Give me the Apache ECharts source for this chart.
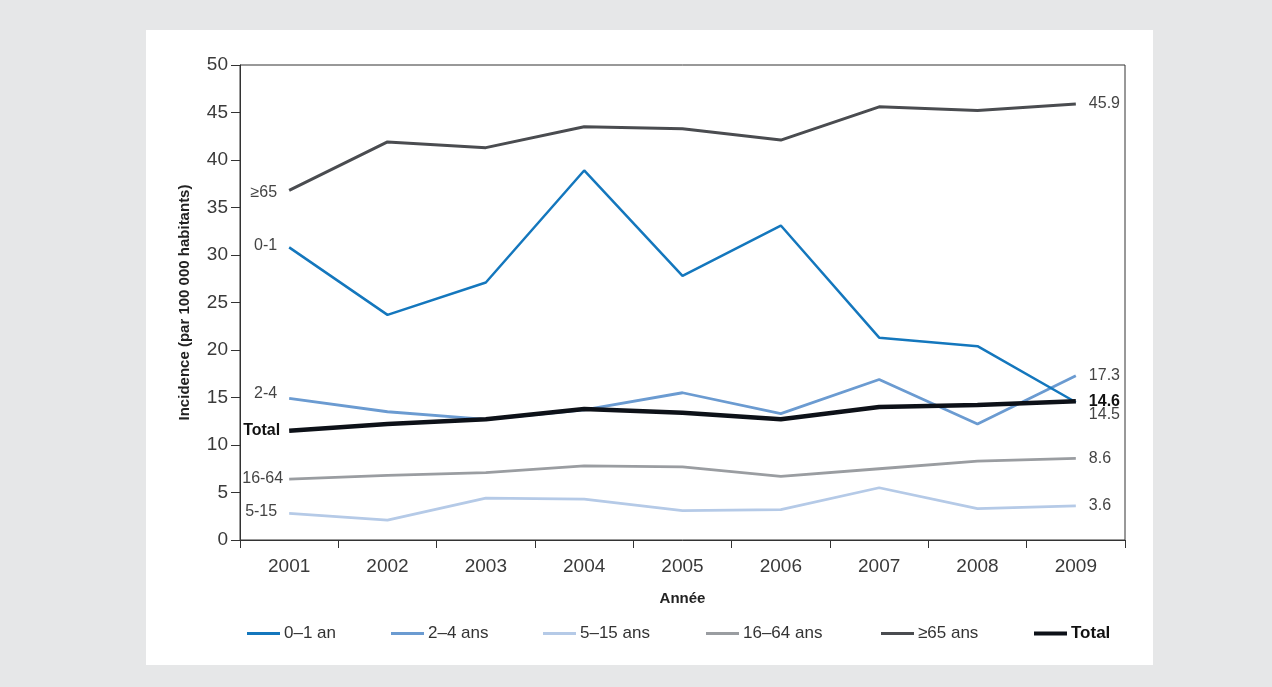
<!DOCTYPE html>
<html><head><meta charset="utf-8">
<script src="https://cdn.jsdelivr.net/npm/echarts@6/dist/echarts.min.js"></script>
<style>
html,body{margin:0;padding:0;background:#e6e7e8;}
#panel{position:absolute;left:146px;top:30px;width:1007px;height:635px;background:#fff;}
#c{position:absolute;left:0;top:0;width:1272px;height:687px;}
</style></head>
<body><div id="panel"></div><div id="c"></div>
<script>
const years = ['2001','2002','2003','2004','2005','2006','2007','2008','2009'];
const s01 = [30.8, 23.7, 27.1, 38.9, 27.8, 33.1, 21.3, 20.4, 14.5];
const s24 = [14.9, 13.5, 12.7, 13.7, 15.5, 13.3, 16.9, 12.2, 17.3];
const s515 = [2.8, 2.1, 4.4, 4.3, 3.1, 3.2, 5.5, 3.3, 3.6];
const s1664 = [6.4, 6.8, 7.1, 7.8, 7.7, 6.7, 7.5, 8.3, 8.6];
const s65 = [36.8, 41.9, 41.3, 43.5, 43.3, 42.1, 45.6, 45.2, 45.9];
const sTotal = [11.5, 12.2, 12.7, 13.8, 13.4, 12.7, 14.0, 14.2, 14.6];
const legendNames = ['0–1 an','2–4 ans','5–15 ans','16–64 ans','≥65 ans','Total'];
const startLabels = ['0-1','2-4','5-15','16-64','≥65','Total'];
const yTicks = [0,5,10,15,20,25,30,35,40,45,50];

const FONT = '"Liberation Sans", Arial, sans-serif';
const colors = ['#1477bd','#6b9bd1','#b5cae7','#9a9da1','#4a4c50','#0d1118'];
const widths = [2.5,2.8,2.8,2.8,3,4.5];
const allData = [s01,s24,s515,s1664,s65,sTotal];
const startOff = [[0,-2],[0,-5],[0,-2],[0,-1],[0,2],[0,0]];
const endOff = [[0,12],[0,0],[0,0],[0,0],[0,0],[0,0]];

function mkSeries(i){
  const d = allData[i];
  const bold = i===5;
  return {
    name: legendNames[i], type:'line', data: d.map((v,j)=>{
      const o = {value:v};
      if(j===0){
        o.label = {show:true, position:'left', distance: i===3?6:(i===5?9:12), offset:startOff[i],
          formatter: startLabels[i], fontSize:16, fontWeight: bold?'bold':'normal',
          color: bold?'#111':'#444', fontFamily:FONT};
      } else if(j===d.length-1){
        o.label = {show:true, position:'right', distance:13, offset:endOff[i],
          formatter: String(v.toFixed(1)), fontSize:16, fontWeight: bold?'bold':'normal',
          color: bold?'#111':'#444', fontFamily:FONT};
      }
      return o;
    }),
    symbol:'circle', symbolSize:0, showSymbol:true, showAllSymbol:true,
    lineStyle:{color:colors[i], width:widths[i]}, itemStyle:{color:colors[i]},
    z: i===5?10:(i===0?5:3), animation:false, label:{show:false}
  };
}
const legendLeft = [247,391,543,706,881,1034];
const legends = legendNames.map((n,i)=>({
  data:[{name:n, icon:'rect', textStyle:{fontWeight: i===5?'bold':'normal', color: i===5?'#111':'#333'}}],
  left: legendLeft[i], top: 625, itemWidth:33, itemHeight: i===5?4:3, itemGap:0,
  textStyle:{fontSize:17, fontFamily:FONT, color:'#333', padding:[0,0,0,-1]}, padding:0,
  selectedMode:false
}));
const chart = echarts.init(document.getElementById('c'));
chart.setOption({
  animation:false,
  legend: legends,
  grid:{left:240, top:65, right:147, bottom:147, show:true, borderColor:'#333', borderWidth:1},
  xAxis:{type:'category', data:years, boundaryGap:true,
    name:'Année', nameLocation:'middle', nameGap:51,
    nameTextStyle:{fontFamily:FONT, fontWeight:'bold', fontSize:15, color:'#222'},
    axisLine:{lineStyle:{color:'#333'}}, axisTick:{show:true, length:8, lineStyle:{color:'#333'}},
    axisLabel:{fontFamily:FONT, fontSize:19, color:'#3a3a3a', margin:17}},
  yAxis:{type:'value', min:0, max:50, interval:5,
    name:'Incidence (par 100 000 habitants)', nameLocation:'middle', nameGap:48,
    nameTextStyle:{fontFamily:FONT, fontWeight:'bold', fontSize:15, color:'#222'},
    axisLine:{show:true, lineStyle:{color:'#333'}}, axisTick:{show:true, length:9, lineStyle:{color:'#333'}},
    splitLine:{show:false},
    axisLabel:{fontFamily:FONT, fontSize:19, color:'#3a3a3a', margin:12,
      formatter:(v)=> yTicks.includes(v)?String(v):''}},
  series:[0,1,2,3,4,5].map(mkSeries)
});
</script></body></html>
